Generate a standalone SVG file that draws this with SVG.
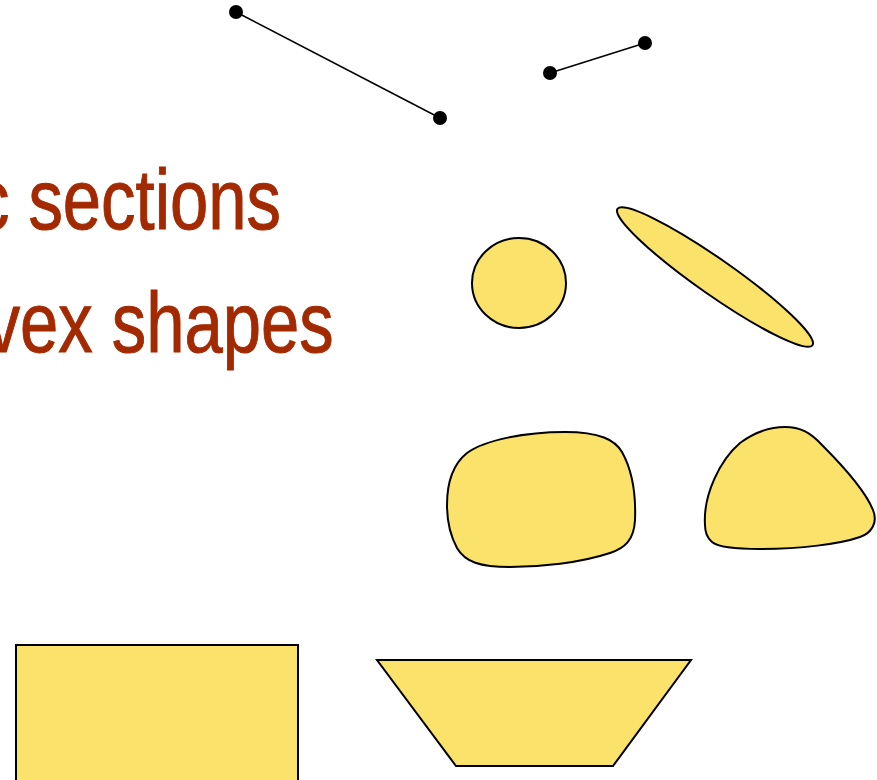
<svg xmlns="http://www.w3.org/2000/svg" width="877" height="780" viewBox="0 0 877 780">
<style>
.shape{fill:#FBE26A;stroke:#000;stroke-width:2}
.seg{stroke:#000;stroke-width:1.6;fill:none}
.dot{fill:#000}
.t{font-family:"Liberation Sans",Arial,sans-serif;font-size:86px;fill:#A32A00;stroke:#A32A00;stroke-width:1}
</style>
<rect width="877" height="780" fill="#fff"/>
<g id="text">
<g transform="scale(0.8,1)">
<text class="t" x="351" y="229" text-anchor="end">c sections</text>
<text class="t" x="417" y="352" text-anchor="end">vex shapes</text>
</g>
</g>
<g id="connectors">
<line class="seg" x1="236" y1="12" x2="440" y2="118"/>
<line class="seg" x1="550" y1="73" x2="645" y2="43"/>
</g>
<g id="points">
<circle class="dot" cx="236" cy="12" r="7"/>
<circle class="dot" cx="440" cy="118" r="7"/>
<circle class="dot" cx="550" cy="73" r="7"/>
<circle class="dot" cx="645" cy="43" r="7"/>
</g>
<g id="circle"><ellipse class="shape" cx="519" cy="283" rx="47" ry="45"/></g>
<g id="ellipse"><ellipse class="shape" cx="715" cy="277" rx="119" ry="18" transform="rotate(35 715 277)"/></g>
<g id="blob1"><path class="shape" d="M467,453 C485,440 525,432 565,432 C600,432 615,440 622,452 C632,470 636,495 635,520 C634,540 625,548 610,553 C580,563 540,567 510,567 C480,567 465,562 457,548 C450,535 447,520 447,505 C447,485 452,465 467,453 Z"/></g>
<g id="blob2"><path class="shape" d="M705,525 C703,495 720,460 740,443 C755,432 770,427 785,427 C800,427 810,432 822,445 C840,463 865,490 873,510 C878,522 872,533 860,537 C840,544 800,549 760,549 C735,549 718,547 712,542 C706,537 705,530 705,525 Z"/></g>
<g id="rect"><rect class="shape" x="16" y="645" width="282" height="145"/></g>
<g id="trapezoid"><polygon class="shape" points="377,660 691,660 613,766 456,766"/></g>
</svg>
